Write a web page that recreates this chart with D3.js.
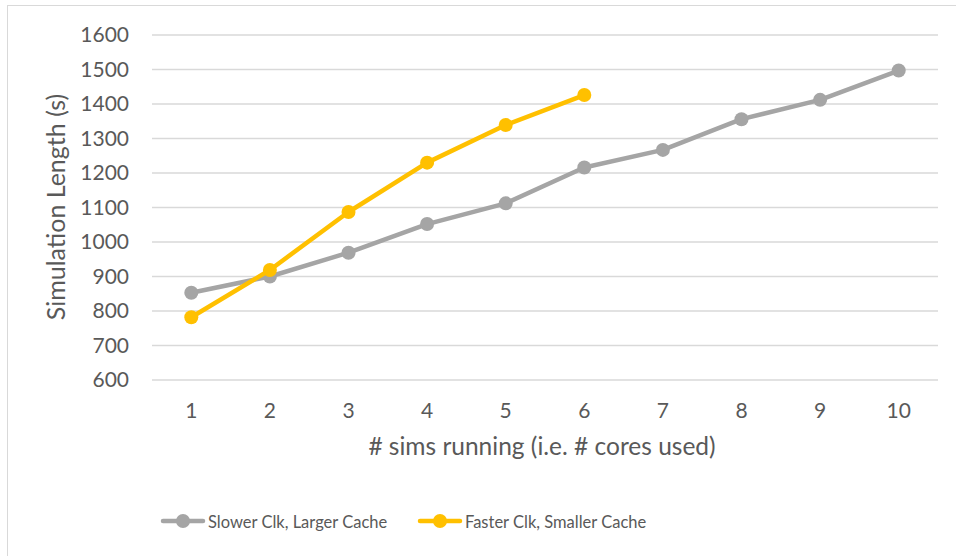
<!DOCTYPE html>
<html><head><meta charset="utf-8">
<script src="https://cdn.jsdelivr.net/npm/d3@7"></script>
<style>body{margin:0;background:#fff}svg{display:block}</style>
</head><body>
<svg id="c" width="956" height="556"></svg>
<script>
const categories = ["1","2","3","4","5","6","7","8","9","10"];
const slowerValues = [853, 900, 969, 1052, 1112, 1216, 1267, 1356, 1412, 1497];
const fasterValues = [782, 919, 1087, 1230, 1339, 1426];
const yTicks = [600,700,800,900,1000,1100,1200,1300,1400,1500,1600];
const seriesNames = ["Slower Clk, Larger Cache", "Faster Clk, Smaller Cache"];
const seriesColors = ["#A5A5A5", "#FFC000"];

const font = "Lato, sans-serif";
const svg = d3.select("#c");
svg.append("rect").attr("x",7.5).attr("y",5.5).attr("width",960).attr("height",560)
  .attr("fill","#fff").attr("stroke","#D9D9D9");

const x = d3.scaleBand().domain(categories).range([152,938]);
const y = d3.scaleLinear().domain([600,1600]).range([380,35]);

svg.append("g").selectAll("line").data(yTicks).join("line")
  .attr("x1",152).attr("x2",938).attr("y1",d=>y(d)).attr("y2",d=>y(d))
  .attr("stroke","#D9D9D9").attr("stroke-width",1.3);

const ya = svg.append("g").attr("transform","translate(138,0)")
  .call(d3.axisLeft(y).tickValues(yTicks).tickFormat(d3.format("d")).tickSize(0).tickPadding(9));
ya.select(".domain").remove();
ya.selectAll("text").attr("fill","#595959").style("font-family",font).style("font-size","21px");

const xa = svg.append("g").attr("transform","translate(0,403)")
  .call(d3.axisBottom(x).tickSize(0).tickPadding(0));
xa.select(".domain").remove();
xa.selectAll("text").attr("fill","#595959").style("font-family",font).style("font-size","21px");

svg.append("text").attr("x",542).attr("y",455).attr("text-anchor","middle")
  .attr("fill","#595959").style("font-family",font).style("font-size","24.5px")
  .text("# sims running (i.e. # cores used)");
svg.append("text").attr("transform","translate(65,207) rotate(-90)").attr("text-anchor","middle")
  .attr("fill","#595959").style("font-family",font).style("font-size","25px")
  .text("Simulation Length (s)");

const line = d3.line().x((d,i)=>x(categories[i])+x.bandwidth()/2).y(d=>y(d));
[slowerValues, fasterValues].forEach((vals,k)=>{
  svg.append("path").datum(vals).attr("d",line).attr("fill","none")
    .attr("stroke",seriesColors[k]).attr("stroke-width",4.5).attr("stroke-linejoin","round");
  svg.append("g").selectAll("circle").data(vals).join("circle")
    .attr("cx",(d,i)=>x(categories[i])+x.bandwidth()/2).attr("cy",d=>y(d)).attr("r",7)
    .attr("fill",seriesColors[k]);
});

const legX = [163, 420];
seriesNames.forEach((n,k)=>{
  const g = svg.append("g").attr("transform",`translate(${legX[k]},521)`);
  g.append("line").attr("x1",0).attr("x2",40).attr("stroke",seriesColors[k]).attr("stroke-width",4.5).attr("stroke-linecap","round");
  g.append("circle").attr("cx",20).attr("r",7).attr("fill",seriesColors[k]);
  g.append("text").attr("x",45).attr("y",6.5).attr("fill","#595959")
    .style("font-family",font).style("font-size","16.5px").text(n);
});
</script>
</body></html>
